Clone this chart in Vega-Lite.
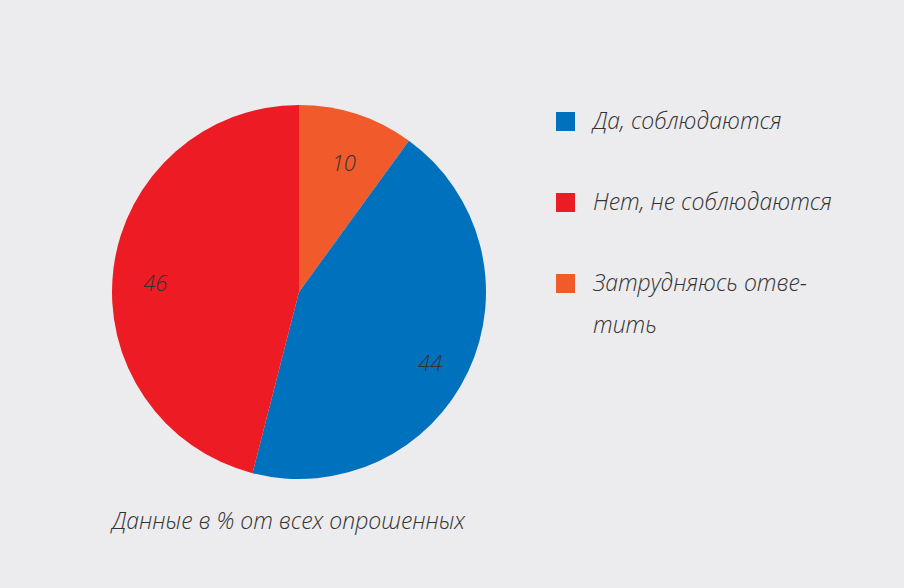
{
  "$schema": "https://vega.github.io/schema/vega-lite/v6.json",
  "width": 374,
  "height": 374,
  "autosize": {"type": "none"},
  "padding": {"left": 112, "top": 105, "right": 418, "bottom": 109},
  "background": "#ececee",
  "config": {"view": {"stroke": null}},
  "title": {
    "text": "Данные в % от всех опрошенных",
    "orient": "bottom",
    "anchor": "start",
    "offset": 32,
    "font": "Open Sans",
    "fontStyle": "italic",
    "fontWeight": 300,
    "fontSize": 23,
    "color": "#333333"
  },
  "data": {
    "values": [
      {"answer": "Затрудняюсь ответить", "value": 10, "order": 1},
      {"answer": "Да, соблюдаются", "value": 44, "order": 2},
      {"answer": "Нет, не соблюдаются", "value": 46, "order": 3}
    ]
  },
  "encoding": {
    "theta": {"field": "value", "type": "quantitative", "stack": true},
    "order": {"field": "order", "type": "quantitative"}
  },
  "layer": [
    {
      "mark": {"type": "arc"},
      "encoding": {
        "color": {
          "field": "answer",
          "type": "nominal",
          "scale": {
            "domain": ["Да, соблюдаются", "Нет, не соблюдаются", "Затрудняюсь ответить"],
            "range": ["#0071bc", "#ed1c24", "#f15a2b"]
          },
          "legend": {
            "title": null,
            "orient": "none",
            "legendX": 442,
            "legendY": 5,
            "symbolType": "square",
            "symbolSize": 361,
            "symbolStrokeWidth": 0,
            "symbolOpacity": 1,
            "labelFont": "Open Sans",
            "labelFontStyle": "italic",
            "labelFontWeight": 300,
            "labelFontSize": 23,
            "labelColor": "#333333",
            "labelOffset": 16,
            "labelLimit": 400,
            "rowPadding": 57,
            "labelExpr": "datum.label == 'Затрудняюсь ответить' ? ['Затрудняюсь отве-', 'тить'] : datum.label",
            "encode": {
              "labels": {
                "update": {
                  "lineHeight": {"value": 42}
                }
              }
            }
          }
        }
      }
    },
    {
      "mark": {
        "type": "text",
        "radius": 145,
        "dy": 10,
        "font": "Open Sans",
        "fontStyle": "italic",
        "fontWeight": 300,
        "fontSize": 22,
        "color": "#333333"
      },
      "encoding": {
        "text": {"field": "value", "type": "quantitative"}
      }
    }
  ]
}
